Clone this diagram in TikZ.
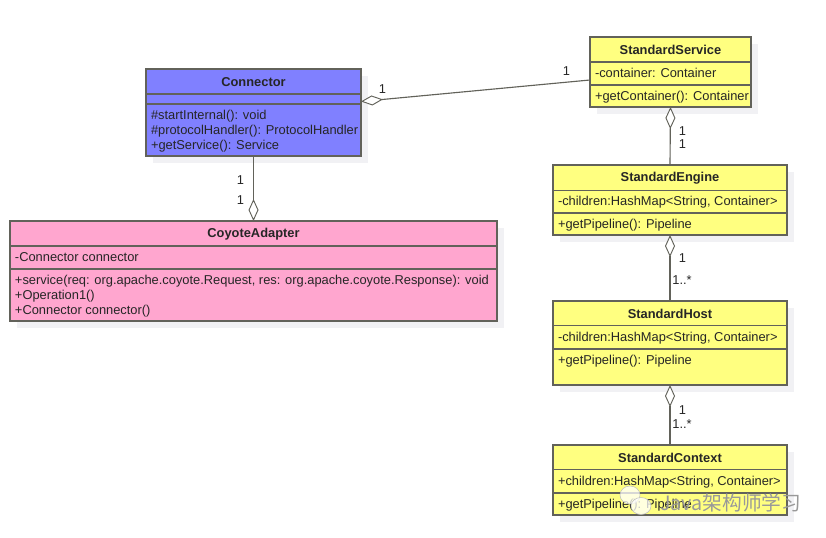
\documentclass[tikz,border=0pt]{standalone}
\usepackage{fontspec}
\setmainfont{Liberation Sans}
\newfontfamily\cjkwm{Noto Sans CJK SC}
\usetikzlibrary{arrows.meta,calc}
\definecolor{bluefill}{HTML}{8080FF}
\definecolor{yellowfill}{HTML}{FFFF80}
\definecolor{pinkfill}{HTML}{FFA6CF}
\definecolor{edgegrey}{HTML}{62625A}
\definecolor{shadowgrey}{HTML}{F1F1F4}
\tikzset{
  x=0.75pt,y=-0.75pt,
  every node/.style={font=\fontsize{9.65pt}{11.25pt}\selectfont,text=black!85,inner sep=0pt,outer sep=0pt},
  umlbox/.style={draw=edgegrey,line width=0.85pt,rectangle,anchor=north west},
  shadowbox/.style={fill=shadowgrey,draw=none},
  divider/.style={draw=edgegrey,line width=0.85pt},
  titletext/.style={font=\fontsize{9.65pt}{11.25pt}\selectfont\bfseries,anchor=center},
  membertext/.style={align=left,anchor=north west},
  aggregation/.style={draw=edgegrey,line width=0.85pt,{Diamond[open,fill=white,length=16.5pt,width=7.5pt,line width=0.7pt]}-},
  multiplicity/.style={anchor=center,font=\fontsize{9.65pt}{11.25pt}\selectfont}
}
\newcommand{\umlclass}[9]{%
  \fill[shadowbox] (#2+7,#3+7) rectangle (#2+#4+7,#3+#5+7);
  \node[umlbox,fill=#6,minimum width=#4*0.75pt,minimum height=#5*0.75pt] (#1) at (#2,#3) {};
  \coordinate (#1-a) at (#2,#7);
  \coordinate (#1-b) at (#2,#8);
  \draw[divider] (#1-a) -- (#1-a -| #1.east);
  \draw[divider] (#1-b) -- (#1-b -| #1.east);
  \node[titletext] (#1-title) at ($(#2+#4/2,#3)+(0,13)$) {#9};
}
\begin{document}
\begin{tikzpicture}
\useasboundingbox (0,0) rectangle (826,538);
\fill[white] (0,0) rectangle (826,538);

\umlclass{connector}{146}{69}{215}{87}{bluefill}{94}{104}{Connector}
\umlclass{service}{590}{37}{161}{70}{yellowfill}{62}{85}{StandardService}
\umlclass{engine}{553}{165}{234}{70}{yellowfill}{190.5}{213}{StandardEngine}
\umlclass{host}{553}{301}{234}{84}{yellowfill}{325.5}{349}{StandardHost}
\umlclass{context}{553}{445}{234}{70}{yellowfill}{469.5}{493}{StandardContext}
\umlclass{coyote}{10}{221}{487}{100}{pinkfill}{246}{269}{CoyoteAdapter}

\node[membertext] (connector-ops) at (151,110.5) {\#startInternal(): void\\\#protocolHandler(): ProtocolHandler\\+getService(): Service};
\node[membertext] (service-attr) at (595,68.5) {-container: Container};
\node[membertext] (service-ops) at (595,91.5) {+getContainer(): Container};
\node[membertext] (engine-attr) at (558,196.5) {-children:HashMap<String, Container>};
\node[membertext] (engine-ops) at (558,219.5) {+getPipeline(): Pipeline};
\node[membertext] (host-attr) at (558,332.5) {-children:HashMap<String, Container>};
\node[membertext] (host-ops) at (558,355.5) {+getPipeline(): Pipeline};
\node[membertext] (context-attr) at (558,476) {+children:HashMap<String, Container>};
\node[membertext] (context-ops) at (558,499.5) {+getPipeline(): Pipeline};
\node[membertext] (coyote-attr) at (15,252.5) {-Connector connector};
\node[membertext] (coyote-ops) at (15,275.5) {+service(req: org.apache.coyote.Request, res: org.apache.coyote.Response): void\\+Operation1()\\+Connector connector()};

% connectors
\coordinate (conn-end) at (361,101.5);
\coordinate (serv-end) at (590,80);
\draw[aggregation] (conn-end) -- (serv-end);
\draw[aggregation] (coyote.north) -- (connector.south);
\draw[aggregation] (service.south) -- (engine.north);
\draw[aggregation] (engine.south) -- (host.north);
\draw[aggregation] (host.south) -- (context.north);

% multiplicities
\node[multiplicity] (m1) at (382.5,89) {1};
\node[multiplicity] (m2) at (566.5,71) {1};
\node[multiplicity] (m3) at (240.5,180) {1};
\node[multiplicity] (m4) at (240.5,200) {1};
\node[multiplicity] (m5) at (682.5,131) {1};
\node[multiplicity] (m6) at (682.5,144) {1};
\node[multiplicity] (m7) at (682.5,258) {1};
\node[multiplicity] (m8) at (682,280) {1..*};
\node[multiplicity] (m9) at (682.5,410) {1};
\node[multiplicity] (m10) at (682,424) {1..*};

% watermark
\fill[white,fill opacity=0.75,draw=black!25,line width=0.4pt] (630,495) ellipse (10 and 9);
\fill[white,fill opacity=0.75,draw=black!25,line width=0.4pt] (641,506) ellipse (10 and 8.5);
\node[anchor=west,text=black!40] (wm) at (660,503) {\cjkwm\fontsize{14.8pt}{17pt}\selectfont Java架构师学习};
\end{tikzpicture}
\end{document}
